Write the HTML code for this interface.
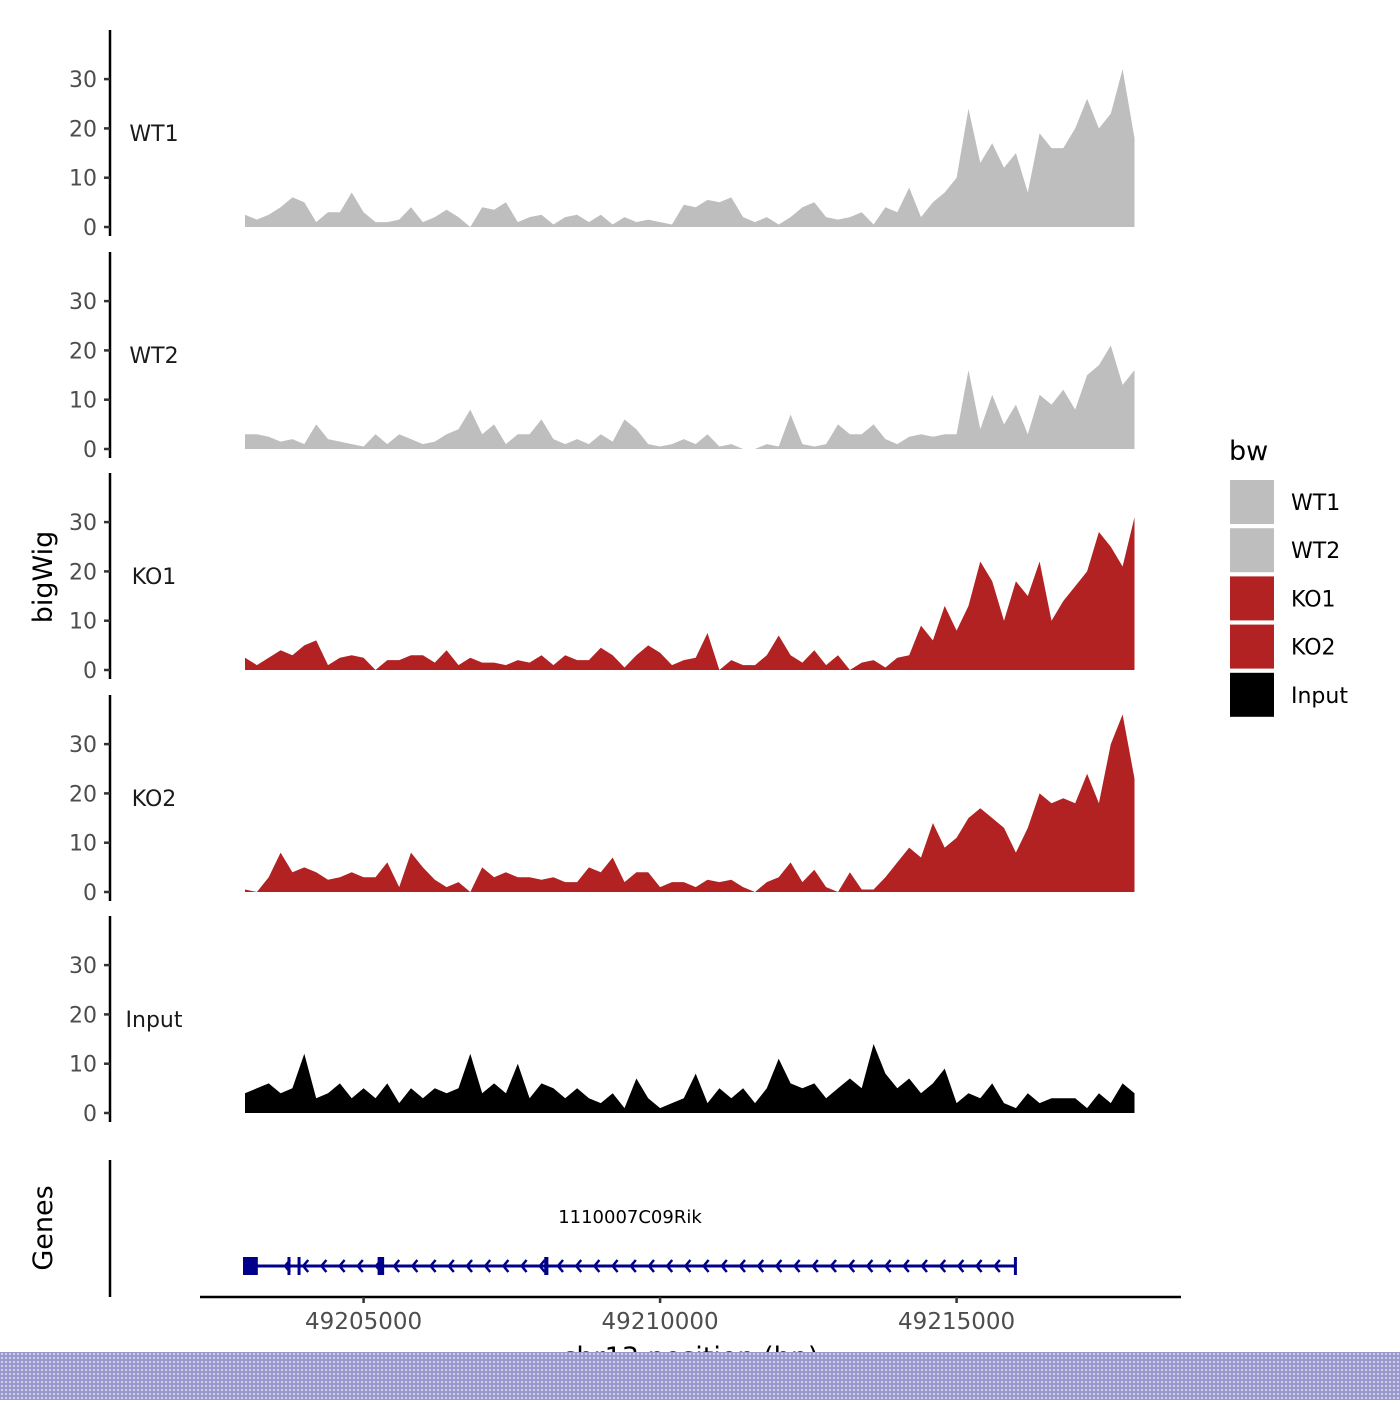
<!DOCTYPE html>
<html><head><meta charset="utf-8"><style>
body{margin:0;background:#fff;width:1400px;height:1400px;overflow:hidden;position:relative;font-family:"DejaVu Sans","Liberation Sans",sans-serif}
#band{position:absolute;left:0;top:1352px;width:1400px;height:48px;background-color:#9999cc;background-image:radial-gradient(circle,#d8d8ee 0.8px,transparent 1.2px);background-size:4px 4px}
</style></head><body>
<svg id="chart" width="1400" height="1400" xmlns="http://www.w3.org/2000/svg" font-family="DejaVu Sans, Liberation Sans, sans-serif"></svg>
<div id="band"></div>
<script>
const startPos = 49203000, stepBp = 200;
const tracks = ["WT1","WT2","KO1","KO2","Input"];
const colors = ["#bebebe","#bebebe","#b22222","#b22222","#000000"];
const wt1 = [2.5,1.5,2.5,4,6,5,1,3,3,7,3,1,1,1.5,4,1,2,3.5,2,0,4,3.5,5,1,2,2.5,0.5,2,2.5,1,2.5,0.5,2,1,1.5,1,0.5,4.5,4,5.5,5,6,2,1,2,0.5,2,4,5,2,1.5,2,3,0.5,4,3,8,2,5,7,10,24,13,17,12,15,7,19,16,16,20,26,20,23,32,18];
const wt2 = [3,3,2.5,1.5,2,1,5,2,1.5,1,0.5,3,1,3,2,1,1.5,3,4,8,3,5,1,3,3,6,2,1,2,1,3,1.5,6,4,1,0.5,1,2,1,3,0.5,1,0,0,1,0.5,7,1,0.5,1,5,3,3,5,2,1,2.5,3,2.5,3,3,16,4,11,5,9,3,11,9,12,8,15,17,21,13,16];
const ko1 = [2.5,1,2.5,4,3,5,6,1,2.5,3,2.5,0,2,2,3,3,1.5,4,1,2.5,1.5,1.5,1,2,1.5,3,1,3,2,2,4.5,3,0.5,3,5,3.5,1,2,2.5,7.5,0,2,1,1,3,7,3,1.5,4,1,3,0,1.5,2,0.5,2.5,3,9,6,13,8,13,22,18,10,18,15,22,10,14,17,20,28,25,21,31];
const ko2 = [0.5,0,3,8,4,5,4,2.5,3,4,3,3,6,1,8,5,2.5,1,2,0,5,3,4,3,3,2.5,3,2,2,5,4,7,2,4,4,1,2,2,1,2.5,2,2.5,1,0,2,3,6,2,4.5,1,0,4,0.5,0.5,3,6,9,7,14,9,11,15,17,15,13,8,13,20,18,19,18,24,18,30,36,23];
const input = [4,5,6,4,5,12,3,4,6,3,5,3,6,2,5,3,5,4,5,12,4,6,4,10,3,6,5,3,5,3,2,4,1,7,3,1,2,3,8,2,5,3,5,2,5,11,6,5,6,3,5,7,5,14,8,5,7,4,6,9,2,4,3,6,2,1,4,2,3,3,3,1,4,2,6,4];
const seriesValues = [wt1,wt2,ko1,ko2,input];
const yTicks = [0,10,20,30];
const xTicks = [49205000,49210000,49215000];
const exonStarts = [49203000,49203750,49203920,49205270,49208080,49216000];
const exonEnds = [49203250,49203790,49203970,49205380,49208150,49216040];
const geneStart = 49203000, geneEnd = 49216000;

const NS="http://www.w3.org/2000/svg";
const svg=document.getElementById('chart');
function mk(tag,attrs,parent){const e=document.createElementNS(NS,tag);for(const k in attrs)e.setAttribute(k,attrs[k]);(parent||svg).appendChild(e);return e;}
const xScale = bp => 245 + (bp-startPos)*(296.5/5000);
const panelBase = [227,449,670,892,1113];
const yScale = (v,p) => panelBase[p] - v*4.93;

tracks.forEach((name,p)=>{
  const g=mk('g',{});
  
  
  const vals=seriesValues[p];
  let d='M'+xScale(startPos)+','+panelBase[p];
  vals.forEach((v,i)=>{d+=' L'+xScale(startPos+i*stepBp).toFixed(1)+','+yScale(v,p).toFixed(1);});
  d+=' L'+xScale(startPos+(vals.length-1)*stepBp).toFixed(1)+','+panelBase[p]+' Z';
  const a=mk('path',{d:d,fill:colors[p]},g);
  
  
  const ax=mk('line',{x1:110,x2:110,y1:panelBase[p]-197,y2:panelBase[p]+9,stroke:'#000','stroke-width':2.5},g);
  
  
  yTicks.forEach(t=>{
    const y=yScale(t,p);
    mk('line',{x1:104,x2:110,y1:y,y2:y,stroke:'#333','stroke-width':2.5},g);
    const tx=mk('text',{x:97,y:y+8,'text-anchor':'end','font-size':22,fill:'#4d4d4d'},g);
    tx.textContent=t;
    
    
  });
  const lb=mk('text',{x:154,y:panelBase[p]-86,'text-anchor':'middle','font-size':22,fill:'#1a1a1a'},g);
  lb.textContent=name;
  
  
});

const yt=mk('text',{x:0,y:0,transform:'translate(52,577) rotate(-90)','text-anchor':'middle','font-size':27,fill:'#000'});
yt.textContent='bigWig';



const gp=mk('g',{});


mk('line',{x1:110,x2:110,y1:1160,y2:1297,stroke:'#000','stroke-width':2.5},gp);
const gt=mk('text',{x:0,y:0,transform:'translate(52,1228) rotate(-90)','text-anchor':'middle','font-size':27,fill:'#000'},gp);
gt.textContent='Genes';


const gy=1266;
mk('line',{x1:xScale(geneStart),x2:xScale(geneEnd),y1:gy,y2:gy,stroke:'#00008b','stroke-width':3},gp);
for(let x=xScale(geneStart)+40;x<xScale(geneEnd)-5;x+=18.2){
  mk('polyline',{points:(x+5)+','+(gy-6)+' '+x+','+gy+' '+(x+5)+','+(gy+6),fill:'none',stroke:'#00008b','stroke-width':2.5},gp);
}
exonStarts.forEach((s,i)=>{
  const x1=xScale(s),x2=xScale(exonEnds[i]);
  const r=mk('rect',{x:x1-2,y:gy-9,width:Math.max(3,x2-x1),height:18,fill:'#00008b'},gp);
  
  
});
const gn=mk('text',{x:630,y:1223,'text-anchor':'middle','font-size':18,fill:'#000'},gp);
gn.textContent='1110007C09Rik';



const xa=mk('line',{x1:200,x2:1181,y1:1297,y2:1297,stroke:'#000','stroke-width':2.5});


xTicks.forEach(t=>{
  const x=xScale(t);
  mk('line',{x1:x,x2:x,y1:1297,y2:1303,stroke:'#333','stroke-width':2.5});
  const tx=mk('text',{x:x,y:1329,'text-anchor':'middle','font-size':23,fill:'#4d4d4d'});
  tx.textContent=t;
  
  
});
const xt=mk('text',{x:690,y:1366,'text-anchor':'middle','font-size':27,fill:'#000'});
xt.textContent='chr13 position (bp)';



const lg=mk('g',{});


const lt=mk('text',{x:1229,y:460,'font-size':27,fill:'#000'},lg);
lt.textContent='bw';
tracks.forEach((name,i)=>{
  const y=480+i*48.2;
  const k=mk('rect',{x:1230,y:y,width:44,height:44,fill:colors[i]},lg);
  
  
  const t=mk('text',{x:1291,y:y+30,'font-size':22,fill:'#000'},lg);
  t.textContent=name;
  
  
});
</script>
</body></html>
